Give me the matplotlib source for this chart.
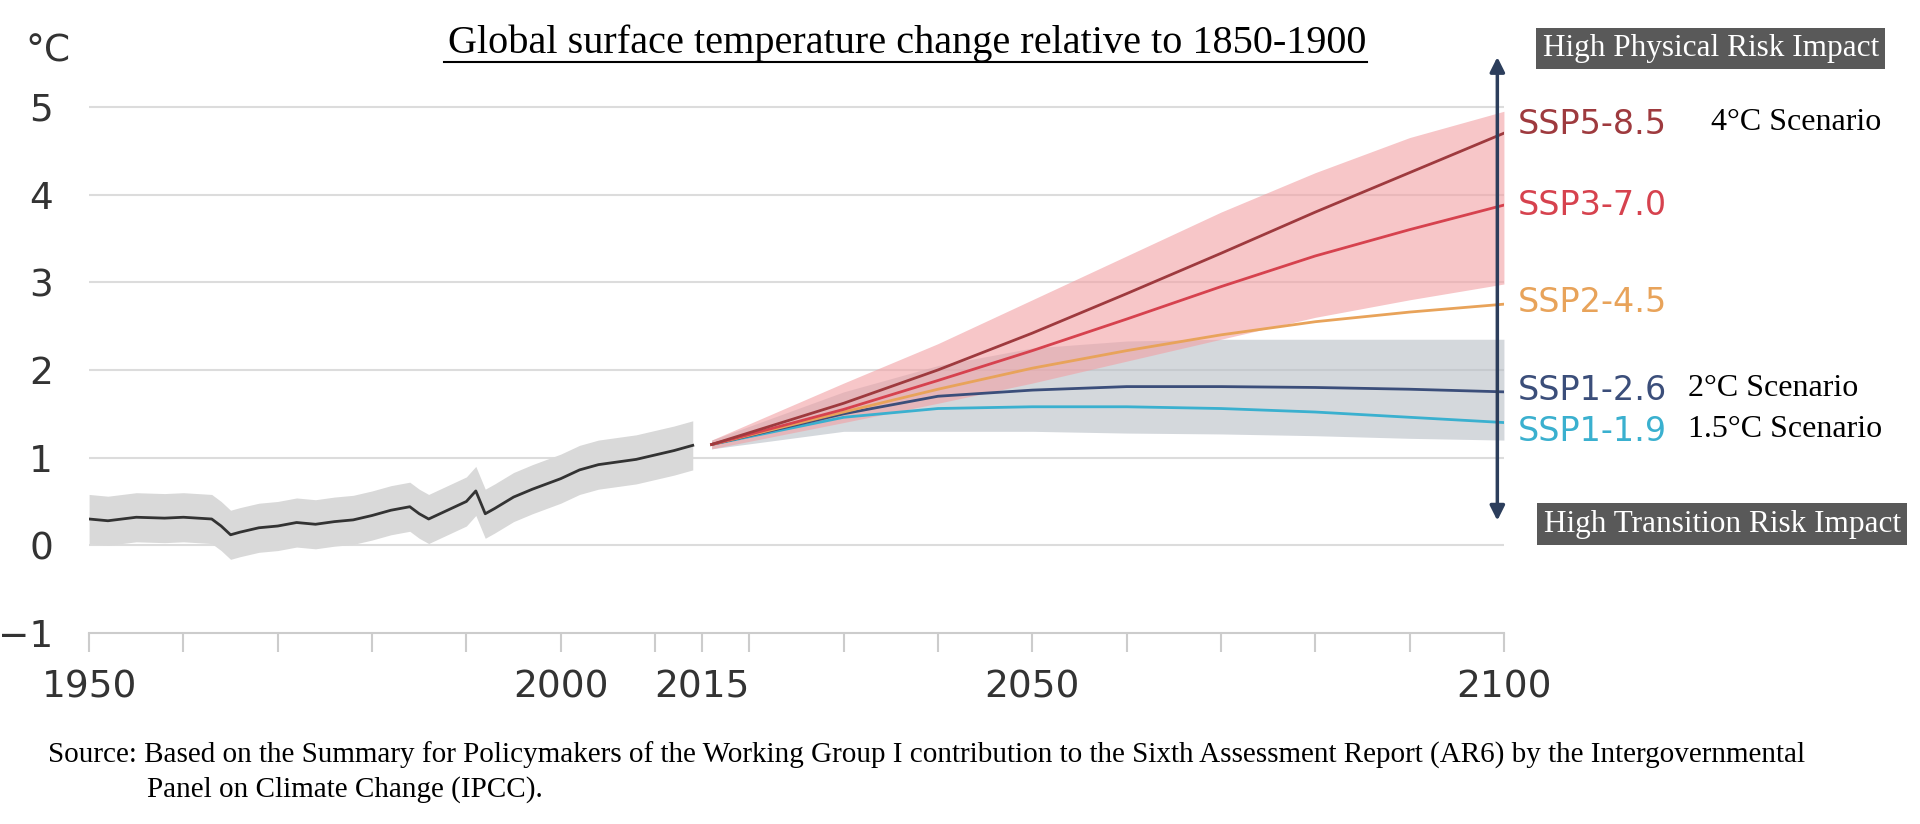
import matplotlib
matplotlib.use("Agg")
import matplotlib.pyplot as plt
import numpy as np

hist_years = [1950,1952,1955,1958,1960,1963,1964,1965,1966,1968,1970,1972,1974,1976,1978,1980,1982,1984,1985,1986,1988,1990,1991,1992,1993,1995,1997,2000,2002,2004,2006,2008,2010,2012,2014]
hist_vals  = [0.30,0.28,0.32,0.31,0.32,0.30,0.22,0.12,0.15,0.20,0.22,0.26,0.24,0.27,0.29,0.34,0.40,0.44,0.36,0.30,0.40,0.50,0.62,0.36,0.42,0.55,0.64,0.76,0.86,0.92,0.95,0.98,1.03,1.08,1.14]
hist_lo = [v - 0.28 for v in hist_vals]
hist_hi = [v + 0.28 for v in hist_vals]

proj_years = [2016,2030,2040,2050,2060,2070,2080,2090,2100]
ssp585 = [1.15,1.62,2.00,2.42,2.87,3.33,3.80,4.25,4.70]
ssp370 = [1.15,1.55,1.88,2.22,2.58,2.95,3.30,3.60,3.88]
ssp245 = [1.15,1.52,1.78,2.02,2.22,2.40,2.55,2.66,2.75]
ssp126 = [1.15,1.50,1.70,1.77,1.81,1.81,1.80,1.78,1.75]
ssp119 = [1.15,1.46,1.56,1.58,1.58,1.56,1.52,1.46,1.40]
red_lo  = [1.10,1.40,1.62,1.85,2.10,2.35,2.60,2.80,2.98]
red_hi  = [1.20,1.85,2.30,2.80,3.30,3.80,4.25,4.65,4.95]
gray_lo = [1.10,1.30,1.30,1.30,1.28,1.27,1.25,1.22,1.20]
gray_hi = [1.20,1.75,2.05,2.25,2.33,2.35,2.35,2.35,2.35]

labels = ["SSP5-8.5","SSP3-7.0","SSP2-4.5","SSP1-2.6","SSP1-1.9"]
series = [ssp585, ssp370, ssp245, ssp126, ssp119]
colors = ["#9e3a3e","#d6424e","#e8a35a","#3b4e7a","#3ab0cf"]
label_y = [4.8,3.87,2.77,1.77,1.30]
extra = {"SSP5-8.5":"4°C Scenario","SSP1-2.6":"2°C Scenario","SSP1-1.9":"1.5°C Scenario"}

fig = plt.figure(figsize=(19.2, 8.24), dpi=100)
ax = fig.add_axes([0.0464, 0.2318, 0.7369, 0.6917])
ax.set_xlim(1950, 2100)
ax.set_ylim(-1, 5.5)

for y in range(0, 6):
    ax.axhline(y, color="#dcdcdc", lw=1.5, zorder=0)

ax.fill_between(proj_years, gray_lo, gray_hi, color="#b8bec6", alpha=0.6, lw=0, zorder=1)
ax.fill_between(proj_years, red_lo, red_hi, color="#f2a0a4", alpha=0.6, lw=0, zorder=1)
ax.fill_between(hist_years, hist_lo, hist_hi, color="#d9d9d9", lw=0, zorder=1)
ax.plot(hist_years, hist_vals, color="#333333", lw=2, zorder=3)
for s, c in zip(series[::-1], colors[::-1]):
    ax.plot(proj_years, s, color=c, lw=2, zorder=3)

for sp in ["top", "right", "left"]:
    ax.spines[sp].set_visible(False)
ax.spines["bottom"].set_color("#cccccc")
ax.spines["bottom"].set_linewidth(1.5)
ax.set_xticks([1950, 2000, 2015, 2050, 2100])
ax.set_xticks(list(range(1950, 2101, 10)), minor=True)
ax.tick_params(axis="x", which="both", length=14, width=1.5, color="#cccccc",
               labelsize=27, pad=12, labelcolor="#333333")
ax.set_yticks(range(-1, 6))
ax.set_yticklabels(["−1", "0", "1", "2", "3", "4", "5"])
ax.tick_params(axis="y", length=0, labelsize=27, pad=26, labelcolor="#333333")
fig.text(0.013, 0.937, "°C", fontsize=27, color="#333333", va="center")

fig.text(0.4725, 0.948, "Global surface temperature change relative to 1850-1900",
         family="Liberation Serif", fontsize=29, ha="center", va="center")
fig.add_artist(plt.Line2D([0.2315, 0.712], [0.925, 0.925], color="black", lw=1.5))

# arrow
ax.annotate("", xy=(2099.3, 0.25), xytext=(2099.3, 5.6),
            arrowprops=dict(arrowstyle="<|-|>", color="#2c3e5c", lw=2.5, mutation_scale=22),
            annotation_clip=False)

for lab, c, ly in zip(labels, colors, label_y):
    ax.text(2101.5, ly, lab, color=c, fontsize=24, va="center")
    if lab in extra:
        xx = 2122 if lab == "SSP5-8.5" else 2119.5
        ax.text(xx, ly + 0.02, extra[lab], family="Liberation Serif", fontsize=23, va="center")

box = dict(boxstyle="square,pad=0.2", fc="#595959", ec="none")
fig.text(0.891, 0.941, "High Physical Risk Impact", family="Liberation Serif",
         fontsize=22.5, color="white", ha="center", va="center", bbox=box)
fig.text(0.897, 0.364, "High Transition Risk Impact", family="Liberation Serif",
         fontsize=22.5, color="white", ha="center", va="center", bbox=box)

fig.text(0.025, 0.083, "Source: Based on the Summary for Policymakers of the Working Group I contribution to the Sixth Assessment Report (AR6) by the Intergovernmental",
         family="Liberation Serif", fontsize=21, va="center")
fig.text(0.0765, 0.042, "Panel on Climate Change (IPCC).", family="Liberation Serif",
         fontsize=21, va="center")

fig.savefig("out.png", dpi=100)
